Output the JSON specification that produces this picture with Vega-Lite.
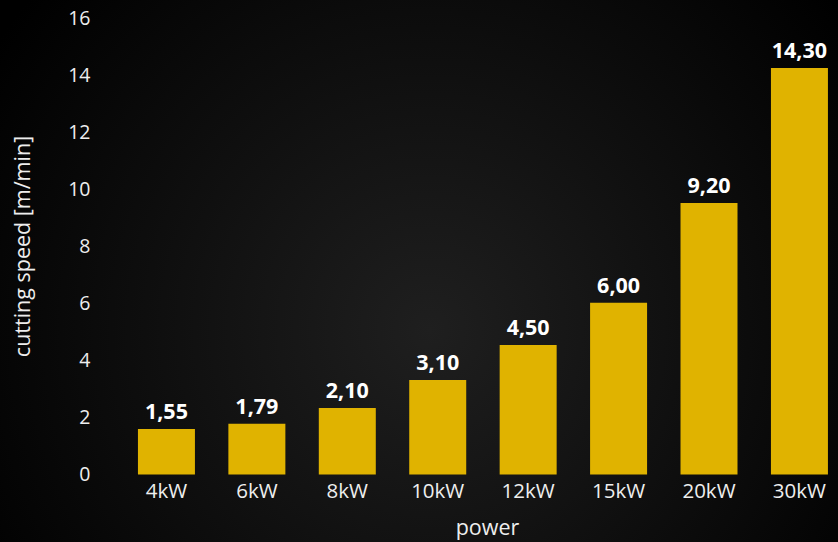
{
  "$schema": "https://vega.github.io/schema/vega-lite/v6.json",
  "width": 838,
  "height": 542,
  "autosize": {"type": "none"},
  "padding": 0,
  "background": "#000000",
  "config": {"view": {"stroke": null}, "font": "Open Sans"},
  "data": {
    "values": [
      {"power": "4kW", "speed": 1.6, "label": "1,55"},
      {"power": "6kW", "speed": 1.78, "label": "1,79"},
      {"power": "8kW", "speed": 2.34, "label": "2,10"},
      {"power": "10kW", "speed": 3.32, "label": "3,10"},
      {"power": "12kW", "speed": 4.55, "label": "4,50"},
      {"power": "15kW", "speed": 6.03, "label": "6,00"},
      {"power": "20kW", "speed": 9.54, "label": "9,20"},
      {"power": "30kW", "speed": 14.28, "label": "14,30"}
    ]
  },
  "layer": [
    {
      "data": {"values": [{}]},
      "mark": {
        "type": "rect",
        "fill": {
          "gradient": "radial",
          "x1": 0.513, "y1": 0.57, "r1": 0,
          "x2": 0.513, "y2": 0.57, "r2": 0.62,
          "stops": [
            {"offset": 0, "color": "#1f1f1f"},
            {"offset": 1, "color": "#000000"}
          ]
        }
      },
      "encoding": {}
    },
    {
      "mark": {"type": "bar", "color": "#E0B300"},
      "encoding": {
        "x": {
          "field": "power", "type": "nominal", "sort": null,
          "scale": {"paddingInner": 0.3697, "paddingOuter": 0.8184, "align": 0.932},
          "axis": {
            "title": "power", "orient": "bottom", "offset": -67.5, "zindex": 1,
            "labelAngle": 0, "ticks": false, "tickSize": 0, "domain": false,
            "labelPadding": 7, "labelFontSize": 20.5, "labelColor": "#eeeeee",
            "titleFontSize": 21.5, "titleFontWeight": "normal", "titleColor": "#eeeeee",
            "titleX": 487, "titleY": 60, "titleBaseline": "alphabetic"
          }
        },
        "y": {
          "field": "speed", "type": "quantitative",
          "scale": {"domain": [-2.371, 16.667], "nice": false, "zero": false},
          "axis": {
            "title": "cutting speed [m/min]", "orient": "left", "offset": -90, "zindex": 1,
            "values": [0, 2, 4, 6, 8, 10, 12, 14, 16],
            "ticks": false, "tickSize": 0, "domain": false, "grid": false,
            "labelPadding": 0, "labelFontSize": 19.5, "labelColor": "#eeeeee",
            "titleFontSize": 21.5, "titleFontWeight": "normal", "titleColor": "#eeeeee",
            "titleX": -67, "titleY": 246, "titleAngle": -90, "titleBaseline": "middle"
          }
        },
        "y2": {"datum": 0}
      }
    },
    {
      "mark": {"type": "text", "baseline": "alphabetic", "dy": -10, "fontSize": 21.5, "fontWeight": "bold", "color": "#ffffff"},
      "encoding": {
        "x": {"field": "power", "type": "nominal", "sort": null},
        "y": {"field": "speed", "type": "quantitative"},
        "text": {"field": "label"}
      }
    }
  ]
}
